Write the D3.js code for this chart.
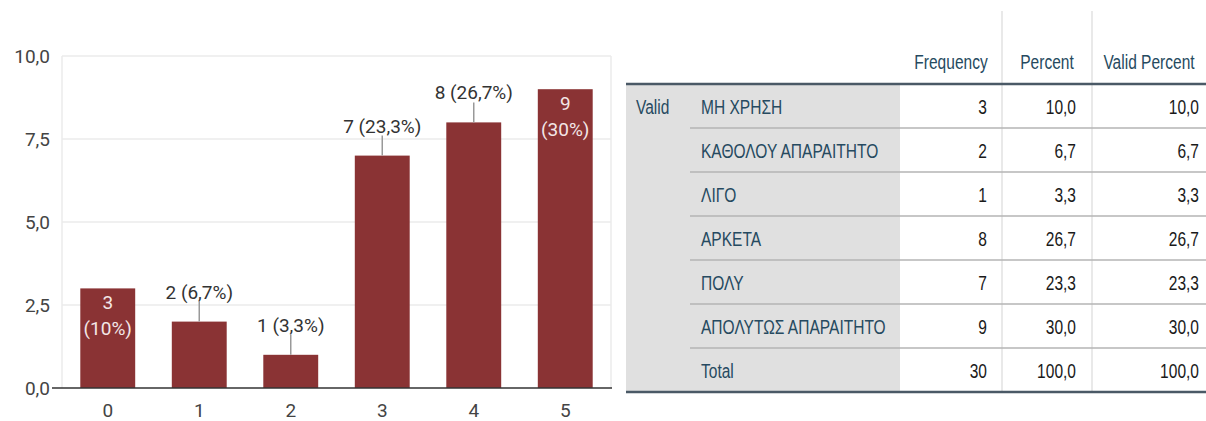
<!DOCTYPE html>
<html>
<head>
<meta charset="utf-8">
<script src="https://cdn.jsdelivr.net/npm/d3@7"></script>
<style>
  html, body { margin: 0; padding: 0; background: #fff; }
  svg { display: block; }
</style>
</head>
<body>
<svg id="root" width="1206" height="421"></svg>
<script>
// Bar chart data
const categories = ["0", "1", "2", "3", "4", "5"];
const counts = [3, 2, 1, 7, 8, 9];
const shares = ["10%", "6,7%", "3,3%", "23,3%", "26,7%", "30%"];
const yTicks = [0, 2.5, 5, 7.5, 10];

// Frequency table data
const tableColumns = ["Frequency", "Percent", "Valid Percent"];
const groupLabel = "Valid";
const rowLabels = ["ΜΗ ΧΡΗΣΗ", "ΚΑΘΟΛΟΥ ΑΠΑΡΑΙΤΗΤΟ", "ΛΙΓΟ", "ΑΡΚΕΤΑ", "ΠΟΛΥ", "ΑΠΟΛΥΤΩΣ ΑΠΑΡΑΙΤΗΤΟ", "Total"];
const frequency = ["3", "2", "1", "8", "7", "9", "30"];
const percent = ["10,0", "6,7", "3,3", "26,7", "23,3", "30,0", "100,0"];
const validPercent = ["10,0", "6,7", "3,3", "26,7", "23,3", "30,0", "100,0"];

const svg = d3.select("#root");
const fmt = v => d3.format(".1f")(v).replace(".", ",");
const chartFont = "Roboto, sans-serif";
const chartSize = 19;

// ---------- Bar chart ----------
const plot = { left: 62, right: 611, top: 56, bottom: 388 };
const x = d3.scaleBand().domain(categories).range([plot.left, plot.right]).paddingInner(0.4).paddingOuter(0.2);
const y = d3.scaleLinear().domain([0, 10]).range([plot.bottom, plot.top]);
const chart = svg.append("g").attr("font-family", chartFont);

// gridlines
chart.append("g").selectAll("line").data(yTicks.filter(t => t > 0)).join("line")
  .attr("x1", plot.left).attr("x2", plot.right)
  .attr("y1", d => y(d)).attr("y2", d => y(d))
  .attr("stroke", "#ebebeb").attr("stroke-width", 1.5);
// frame sides
chart.append("line").attr("x1", plot.left).attr("x2", plot.left).attr("y1", plot.top).attr("y2", plot.bottom)
  .attr("stroke", "#ebebeb").attr("stroke-width", 1.5);
chart.append("line").attr("x1", plot.right).attr("x2", plot.right).attr("y1", plot.top).attr("y2", plot.bottom)
  .attr("stroke", "#ebebeb").attr("stroke-width", 1.5);

// y axis labels
const yAxis = d3.axisLeft(y).tickValues(yTicks).tickFormat(fmt).tickSize(0).tickPadding(12);
chart.append("g").attr("transform", `translate(${plot.left},0)`).call(yAxis)
  .attr("font-family", chartFont).attr("font-size", chartSize)
  .call(g => g.select(".domain").remove())
  .call(g => g.selectAll("text").attr("fill", "#444"));

// bars
chart.append("g").selectAll("rect").data(counts).join("rect")
  .attr("x", (d, i) => x(categories[i]))
  .attr("y", d => y(d))
  .attr("width", x.bandwidth())
  .attr("height", d => y(0) - y(d))
  .attr("fill", "#8a3334");

// baseline
chart.append("line").attr("x1", plot.left - 10).attr("x2", plot.right + 1)
  .attr("y1", y(0)).attr("y2", y(0)).attr("stroke", "#333").attr("stroke-width", 1.5);

// x axis labels
const xAxis = d3.axisBottom(x).tickSize(0).tickPadding(16);
chart.append("g").attr("transform", `translate(0,${y(0)})`).call(xAxis)
  .attr("font-family", chartFont).attr("font-size", chartSize)
  .call(g => g.select(".domain").remove())
  .call(g => g.selectAll("text").attr("fill", "#444"));

// value labels: inside the end bars, above the others with a leader line
const insideIdx = new Set([0, categories.length - 1]);
counts.forEach((v, i) => {
  const cx = x(categories[i]) + x.bandwidth() / 2;
  const top = y(v);
  if (insideIdx.has(i)) {
    chart.append("text").attr("x", cx).attr("y", top + 21).attr("text-anchor", "middle")
      .attr("font-size", chartSize).attr("fill", "#f3e6e6").text(v);
    chart.append("text").attr("x", cx).attr("y", top + 47).attr("text-anchor", "middle")
      .attr("font-size", chartSize).attr("fill", "#f3e6e6").text(`(${shares[i]})`);
  } else {
    chart.append("line").attr("x1", cx).attr("x2", cx).attr("y1", top).attr("y2", top - 20)
      .attr("stroke", "#999").attr("stroke-width", 1.5);
    chart.append("text").attr("x", cx).attr("y", top - 23).attr("text-anchor", "middle")
      .attr("font-size", chartSize).attr("fill", "#333").text(`${v} (${shares[i]})`);
  }
});

// ---------- Frequency table ----------
const tbl = svg.append("g").attr("font-family", "'Liberation Sans', Arial, sans-serif");
const tLeft = 626, tRight = 1206, headerBottom = 84, rowH = 44;
const rowY = d3.scaleBand().domain(d3.range(rowLabels.length)).range([headerBottom, headerBottom + rowH * rowLabels.length]);
const colEdges = [900, 1002, 1092, 1206];
const labelColor = "#264a60";
const tSize = 21, narrow = 0.74;

// condensed cell text
function cellText(px, py, str, anchor, color) {
  return tbl.append("text")
    .attr("transform", `translate(${px},${py}) scale(${narrow},1)`)
    .attr("text-anchor", anchor).attr("font-size", tSize).attr("fill", color).text(str);
}

// shaded stub area
tbl.append("rect").attr("x", tLeft).attr("y", headerBottom).attr("width", colEdges[0] - tLeft)
  .attr("height", rowH * rowLabels.length).attr("fill", "#e0e0e0");

// column separators
tbl.selectAll("line.col").data([colEdges[1], colEdges[2]]).join("line")
  .attr("x1", d => d).attr("x2", d => d).attr("y1", 11).attr("y2", headerBottom + rowH * rowLabels.length)
  .attr("stroke", "#e2e2e2").attr("stroke-width", 1.5);

// row separators
tbl.selectAll("line.row").data(d3.range(1, rowLabels.length)).join("line")
  .attr("x1", 690).attr("x2", tRight)
  .attr("y1", d => rowY(d)).attr("y2", d => rowY(d))
  .attr("stroke", "#b4b4b4").attr("stroke-width", 1.5);

// heavy rules
tbl.append("line").attr("x1", tLeft).attr("x2", tRight).attr("y1", headerBottom).attr("y2", headerBottom)
  .attr("stroke", "#4a5966").attr("stroke-width", 2.5);
tbl.append("line").attr("x1", tLeft).attr("x2", tRight)
  .attr("y1", headerBottom + rowH * rowLabels.length).attr("y2", headerBottom + rowH * rowLabels.length)
  .attr("stroke", "#4a5966").attr("stroke-width", 2.5);

// header
tableColumns.forEach((c, i) => {
  cellText((colEdges[i] + colEdges[i + 1]) / 2, 69, c, "middle", labelColor);
});

// stub text
cellText(636, rowY(0) + rowH / 2 + 7.5, groupLabel, "start", labelColor);
rowLabels.forEach((r, i) => cellText(701, rowY(i) + rowH / 2 + 7.5, r, "start", labelColor));

// numeric cells
const rightEdges = [987, 1076, 1199];
[frequency, percent, validPercent].forEach((col, ci) => {
  col.forEach((v, i) => cellText(rightEdges[ci], rowY(i) + rowH / 2 + 7.5, v, "end", "#1a1a1a"));
});
</script>
</body>
</html>
